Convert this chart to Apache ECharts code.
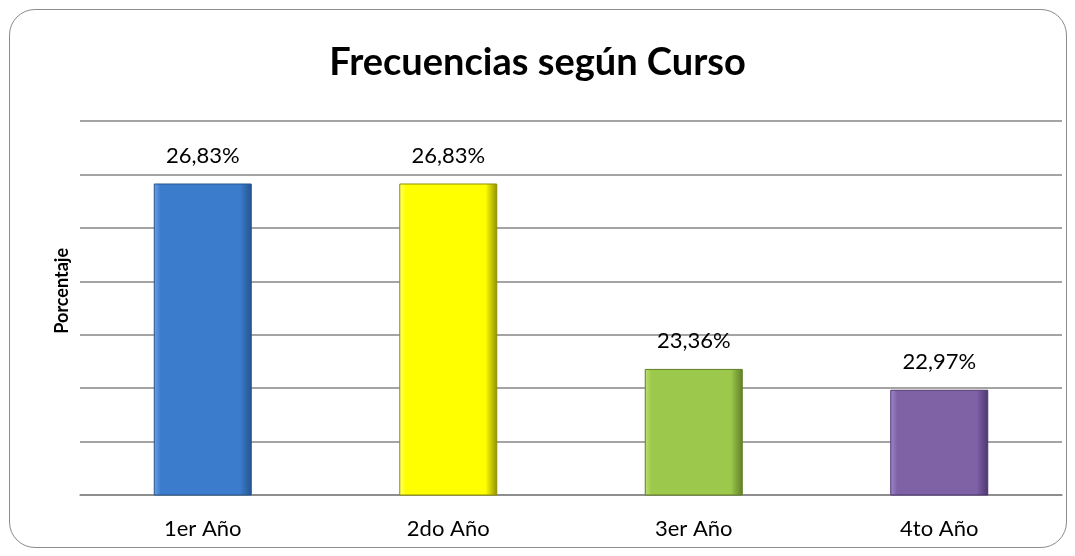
<!DOCTYPE html>
<html>
<head>
    <meta charset="utf-8" />
    <title>Frecuencias según Curso</title>
    <script src="https://cdn.jsdelivr.net/npm/echarts@6/dist/echarts.min.js"></script>
    <style>
        html, body { margin: 0; padding: 0; background: #fff; }
        #frame {
            position: absolute; left: 9px; top: 9px; width: 1058px; height: 539px;
            border: 1.5px solid #8c8c8c; border-radius: 26px; box-sizing: border-box;
        }
        #echart { position: absolute; left: 0; top: 0; width: 1075px; height: 556px; }
    </style>
</head>
<body>
    <div id="frame"></div>
    <div id="echart"></div>
</body>
</html>
<script>
    var cursos = ['1er Año', '2do Año', '3er Año', '4to Año'];
    var porcentajes = [26.83, 26.83, 23.36, 22.97];
    // colores base, claros y oscuros de cada barra (efecto bisel)
    var colores = ['#3c7ccc', '#ffff00', '#9cc84c', '#7f62a6'];
    var claros = ['#6aa2e6', '#ffff70', '#bde070', '#a386cc'];
    var oscuros = ['#24548f', '#8f8f00', '#5f7f25', '#4c3570'];

    var myChart = echarts.init(document.getElementById('echart'));

    var barras = porcentajes.map(function (v, i) {
        return {
            value: v,
            itemStyle: {
                color: new echarts.graphic.LinearGradient(0, 0, 1, 0, [
                    { offset: 0, color: claros[i] },
                    { offset: 0.07, color: colores[i] },
                    { offset: 0.88, color: colores[i] },
                    { offset: 1, color: oscuros[i] }
                ]),
                borderColor: oscuros[i],
                borderWidth: 1
            }
        };
    });

    var option = {
        backgroundColor: 'transparent',
        title: {
            text: 'Frecuencias según Curso',
            left: 'center',
            top: 39,
            textStyle: { fontFamily: 'Lato', fontWeight: 'bold', fontSize: 38, color: '#000' }
        },
        graphic: [{
            type: 'text',
            left: 53,
            top: 248,
            rotation: Math.PI / 2,
            style: { text: 'Porcentaje', fontFamily: 'Lato', fontWeight: 'bold', fontSize: 18, fill: '#000' }
        }],
        grid: { left: 80, right: 13, top: 121, bottom: 61 },
        xAxis: {
            type: 'category',
            data: cursos,
            axisLine: { lineStyle: { color: '#868686', width: 1.5 } },
            axisTick: { length: 8, lineStyle: { color: '#868686', width: 1.5 } },
            axisLabel: { fontFamily: 'Lato', fontSize: 22, color: '#000', margin: 23 }
        },
        yAxis: {
            type: 'value',
            min: 21,
            max: 28,
            interval: 1,
            axisLine: { show: false },
            axisTick: { show: false },
            axisLabel: { show: false },
            splitLine: { lineStyle: { color: '#868686', width: 1.5 } }
        },
        series: [{
            type: 'bar',
            data: barras,
            barWidth: 98,
            label: {
                show: true,
                position: 'top',
                distance: 17,
                fontFamily: 'Lato',
                fontSize: 22,
                color: '#000',
                formatter: function (p) {
                    return p.value.toFixed(2).replace('.', ',') + '%';
                }
            }
        }]
    };
    myChart.setOption(option);
</script>
